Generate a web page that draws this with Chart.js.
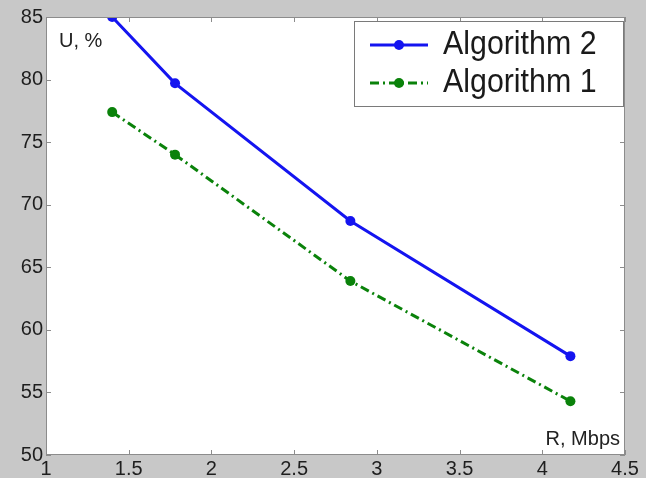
<!DOCTYPE html>
<html>
<head>
<meta charset="utf-8">
<script src="https://cdn.jsdelivr.net/npm/chart.js@4"></script>
<style>
  html, body { margin: 0; padding: 0; background: #c8c8c8; }
  canvas { display: block; }
</style>
</head>
<body>
<canvas id="lineChart" width="646" height="478"></canvas>
<script>
const rateMbps = [1.4, 1.78, 2.84, 4.17];
const algo2Values = [85, 79.7, 68.7, 57.9];
const algo1Values = [77.4, 74.0, 63.9, 54.3];
const seriesNames = ['Algorithm 2', 'Algorithm 1'];
const xTicks = [1, 1.5, 2, 2.5, 3, 3.5, 4, 4.5];
const yTicks = [50, 55, 60, 65, 70, 75, 80, 85];

const FONT = '"Liberation Sans", Arial, sans-serif';
const BLUE = '#1414f0';
const GREEN = '#0a820a';
const GREEN_DASH = [9, 4, 2, 4];

function toPoints(values) {
    return values.map((v, i) => ({ x: rateMbps[i], y: v }));
}

// gray figure, white axes box, inward ticks, axis labels, legend
const matlabLook = {
    id: 'matlabLook',
    beforeDraw(chart) {
        const { ctx, chartArea: a } = chart;
        ctx.save();
        ctx.fillStyle = '#c8c8c8';
        ctx.fillRect(0, 0, chart.width, chart.height);
        ctx.fillStyle = '#ffffff';
        ctx.fillRect(a.left, a.top, a.right - a.left, a.bottom - a.top);
        ctx.restore();
    },
    afterDraw(chart) {
        const { ctx, chartArea: a, scales } = chart;
        ctx.save();
        ctx.strokeStyle = '#8c8c8c';
        ctx.lineWidth = 1;
        ctx.strokeRect(a.left + 0.5, a.top + 0.5, a.right - a.left - 1, a.bottom - a.top - 1);

        const len = 5;
        ctx.beginPath();
        xTicks.forEach(v => {
            const px = Math.round(scales.x.getPixelForValue(v)) + 0.5;
            ctx.moveTo(px, a.bottom); ctx.lineTo(px, a.bottom - len);
            ctx.moveTo(px, a.top); ctx.lineTo(px, a.top + len);
        });
        yTicks.forEach(v => {
            const py = Math.round(scales.y.getPixelForValue(v)) + 0.5;
            ctx.moveTo(a.left, py); ctx.lineTo(a.left + len, py);
            ctx.moveTo(a.right, py); ctx.lineTo(a.right - len, py);
        });
        ctx.stroke();

        // axis names sit inside the box
        ctx.fillStyle = '#222';
        ctx.font = '20px ' + FONT;
        ctx.textBaseline = 'alphabetic';
        ctx.textAlign = 'left';
        ctx.fillText('U, %', a.left + 13, 47);
        ctx.textAlign = 'right';
        ctx.fillText('R, Mbps', a.right - 5, 445);

        // legend
        const box = { x: 354, y: 21, w: 269, h: 85 };
        ctx.fillStyle = '#ffffff';
        ctx.fillRect(box.x, box.y, box.w, box.h);
        ctx.strokeStyle = '#7a7a7a';
        ctx.strokeRect(box.x + 0.5, box.y + 0.5, box.w, box.h);

        const rows = [
            { label: seriesNames[0], color: BLUE, dash: [], y: 45 },
            { label: seriesNames[1], color: GREEN, dash: GREEN_DASH, y: 83 }
        ];
        rows.forEach(r => {
            ctx.strokeStyle = r.color;
            ctx.lineWidth = 3;
            ctx.setLineDash(r.dash);
            ctx.beginPath();
            ctx.moveTo(370, r.y);
            ctx.lineTo(428, r.y);
            ctx.stroke();
            ctx.setLineDash([]);
            ctx.fillStyle = r.color;
            ctx.beginPath();
            ctx.arc(399, r.y, 5, 0, Math.PI * 2);
            ctx.fill();

            ctx.save();
            ctx.fillStyle = '#1a1a1a';
            ctx.font = '33px ' + FONT;
            ctx.textAlign = 'left';
            ctx.textBaseline = 'middle';
            ctx.translate(443, r.y);
            ctx.scale(0.92, 1);
            ctx.fillText(r.label, 0, 0);
            ctx.restore();
        });
        ctx.restore();
    }
};

const ctx = document.getElementById('lineChart').getContext('2d');

new Chart(ctx, {
    type: 'line',
    data: {
        datasets: [
            {
                label: seriesNames[0],
                data: toPoints(algo2Values),
                borderColor: BLUE,
                backgroundColor: BLUE,
                borderWidth: 3,
                pointRadius: 5,
                pointBorderWidth: 0,
                tension: 0
            },
            {
                label: seriesNames[1],
                data: toPoints(algo1Values),
                borderColor: GREEN,
                backgroundColor: GREEN,
                borderWidth: 3,
                borderDash: GREEN_DASH,
                pointRadius: 5,
                pointBorderWidth: 0,
                tension: 0
            }
        ]
    },
    options: {
        responsive: false,
        animation: false,
        layout: { padding: { top: 17, right: 21, left: 0, bottom: 0 } },
        plugins: {
            legend: { display: false },
            tooltip: { enabled: false }
        },
        scales: {
            x: {
                type: 'linear',
                min: 1,
                max: 4.5,
                afterBuildTicks: scale => { scale.ticks = xTicks.map(v => ({ value: v })); },
                afterFit: scale => { scale.height = 23; },
                grid: { display: false },
                border: { display: false },
                ticks: {
                    padding: -6,
                    color: '#1e1e1e',
                    font: { family: FONT, size: 20 },
                    maxRotation: 0,
                    autoSkip: false,
                    callback: v => String(v)
                }
            },
            y: {
                min: 50,
                max: 85,
                afterBuildTicks: scale => { scale.ticks = yTicks.map(v => ({ value: v })); },
                afterFit: scale => { scale.width = 46; },
                grid: { display: false },
                border: { display: false },
                ticks: {
                    padding: -5,
                    color: '#1e1e1e',
                    font: { family: FONT, size: 20 },
                    callback: v => String(v)
                }
            }
        }
    },
    plugins: [matlabLook]
});
</script>
</body>
</html>
